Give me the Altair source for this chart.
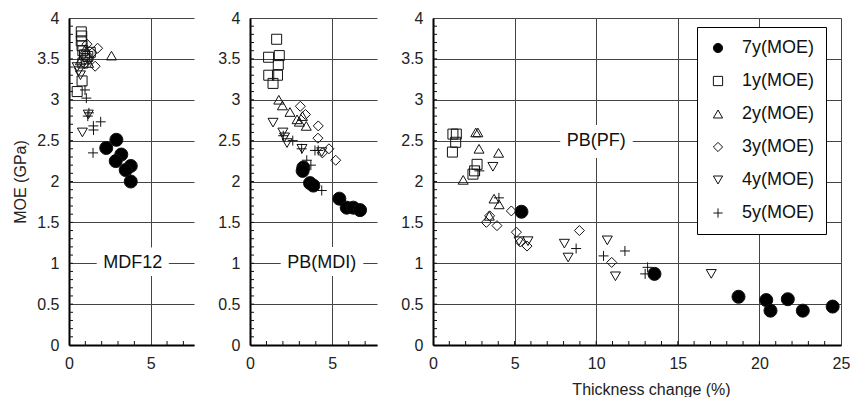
import altair as alt
import pandas as pd

# ---------------- data ----------------
SERIES = ["7y(MOE)", "1y(MOE)", "2y(MOE)", "3y(MOE)", "4y(MOE)", "5y(MOE)"]

# Panel 1: MDF12
MDF_S = ["7y"] * 7 + ["1y"] * 12 + ["2y"] * 4 + ["3y"] * 6 + ["4y"] * 5 + ["5y"] * 8
MDF_X = [2.28, 2.9, 3.2, 2.86, 3.78, 3.47, 3.78,
         0.75, 0.78, 0.75, 0.8, 0.85, 0.95, 1.05, 0.85, 0.8, 0.5, 1.15, 1.3,
         2.6, 1.0, 0.7, 1.2,
         1.75, 1.6, 1.4, 1.2, 1.1, 0.95,
         0.6, 0.5, 0.7, 1.18, 0.82,
         1.06, 0.98, 1.22, 1.15, 1.49, 1.94, 1.5, 1.47]
MDF_Y = [2.41, 2.51, 2.33, 2.25, 2.19, 2.14, 2.0,
         3.83, 3.78, 3.72, 3.66, 3.6, 3.55, 3.5, 3.45, 3.23, 3.1, 3.53, 3.58,
         3.54, 3.62, 3.48, 3.45,
         3.63, 3.41, 3.57, 3.5, 3.68, 3.44,
         3.35, 3.4, 3.3, 2.82, 2.6,
         3.02, 3.12, 2.84, 2.8, 2.68, 2.73, 2.63, 2.35]

# Panel 2: PB(MDI)
MDI_S = ["7y"] * 8 + ["1y"] * 7 + ["2y"] * 7 + ["3y"] * 7 + ["4y"] * 6 + ["5y"] * 8
MDI_X = [3.24, 3.2, 3.65, 3.85, 5.43, 5.88, 6.28, 6.69,
         1.62, 1.13, 1.78, 1.72, 1.14, 1.67, 1.4,
         1.75, 1.97, 2.43, 2.86, 3.19, 3.42, 3.0,
         3.06, 3.37, 4.15, 4.13, 4.8, 4.4, 5.21,
         1.4, 2.0, 2.1, 2.25, 3.16, 4.36,
         2.02, 2.6, 3.14, 3.95, 4.15, 3.45, 3.7, 4.36]
MDI_Y = [2.17, 2.13, 1.98, 1.95, 1.79, 1.68, 1.68, 1.65,
         3.74, 3.52, 3.54, 3.43, 3.3, 3.3, 3.2,
         3.0, 2.93, 2.85, 2.76, 2.8, 2.68, 2.73,
         2.92, 2.82, 2.68, 2.53, 2.4, 2.35, 2.26,
         2.72, 2.6, 2.54, 2.47, 2.4, 2.36,
         2.56, 2.5, 2.4, 2.38, 2.38, 2.26, 2.2, 1.89]

# Panel 3: PB(PF)
PF_S = ["7y"] * 8 + ["1y"] * 7 + ["2y"] * 8 + ["3y"] * 9 + ["4y"] * 8 + ["5y"] * 7
PF_X = [5.42, 13.57, 18.72, 20.42, 20.68, 21.74, 22.66, 24.49,
        1.22, 1.43, 1.39, 1.19, 2.7, 2.55, 2.45,
        2.62, 2.75, 2.82, 4.02, 1.85, 3.74, 4.05, 3.45,
        4.8, 3.47, 3.27, 3.92, 5.11, 5.76, 5.35, 8.97, 10.95,
        3.67, 5.27, 5.82, 8.05, 8.28, 10.68, 11.18, 17.05,
        2.84, 4.04, 8.77, 10.45, 11.76, 13.15, 13.0]
PF_Y = [1.63, 0.87, 0.59, 0.55, 0.42, 0.56, 0.42, 0.47,
        2.58, 2.58, 2.48, 2.36, 2.21, 2.13, 2.09,
        2.6, 2.6, 2.4, 2.35, 2.02, 1.79, 1.72, 1.58,
        1.64, 1.58, 1.5, 1.46, 1.38, 1.21, 1.26, 1.4, 1.01,
        2.18, 1.27, 1.27, 1.24, 1.07, 1.28, 0.84, 0.87,
        2.13, 1.8, 1.18, 1.09, 1.15, 0.95, 0.87]

PANEL_LABELS = ["MDF12", "PB(MDI)", "PB(PF)"]
LABEL_X = [3.9, 4.36, 10.0]
LABEL_Y = [1.0, 1.0, 2.5]

Y_TICKS = [0, 0.5, 1, 1.5, 2, 2.5, 3, 3.5, 4]
Y_MINOR = [i / 10 for i in range(1, 40)]
X_TICKS_SMALL = [0, 5]
X_TICKS_PF = [0, 5, 10, 15, 20, 25]
X_MINOR_SMALL = [1, 2, 3, 4, 6, 7]
X_MINOR_PF = [i for i in range(1, 25)]

# ---------------- style ----------------
FONT = "Liberation Sans"
SHAPES = ["circle", "square", "triangle-up", "diamond", "triangle-down", "M-1,0H1M0,-1V1"]
FILLS = ["black", "transparent", "transparent", "transparent", "transparent", "transparent"]
STROKES = ["#111"] * 6
H = 327

LEG = alt.Legend(title=None, orient="none", legendX=628, legendY=9,
                 strokeColor="black", fillColor="white", padding=12,
                 labelFontSize=18, labelFont=FONT, labelColor="#111",
                 symbolSize=85, rowPadding=15, labelOffset=15,
                 symbolStrokeWidth=1, cornerRadius=0)


def frame(codes, xs, ys):
    return pd.DataFrame({"s": [c + "(MOE)" for c in codes], "x": xs, "y": ys})


def panel(df, xmax, width, xticks, xminor, idx, first, last):
    xs = alt.Scale(domain=[0, xmax], nice=False, zero=False)
    ys = alt.Scale(domain=[0, 4], nice=False, zero=False)
    xaxis = alt.Axis(values=xticks, format="d", grid=True, ticks=False, labelFlush=False,
                     title="Thickness change (%)" if last else None,
                     titleX=218, titleAnchor="middle", titlePadding=10)
    yaxis = alt.Axis(values=Y_TICKS, format="~g", grid=True, ticks=False, labelFlush=False,
                     title="MOE (GPa)" if first else None)
    enc = dict(
        x=alt.X("x:Q", scale=xs, axis=xaxis),
        y=alt.Y("y:Q", scale=ys, axis=yaxis),
        shape=alt.Shape("s:N", scale=alt.Scale(domain=SERIES, range=SHAPES), legend=LEG),
        fill=alt.Fill("s:N", scale=alt.Scale(domain=SERIES, range=FILLS), legend=LEG),
        stroke=alt.Stroke("s:N", scale=alt.Scale(domain=SERIES, range=STROKES), legend=LEG),
    )
    base = alt.Chart(df)
    pts_open = base.transform_filter(alt.datum.s != "7y(MOE)").mark_point(
        filled=True, strokeWidth=1, opacity=1, size=100).encode(**enc)
    pts_full = base.transform_filter(alt.datum.s == "7y(MOE)").mark_point(
        filled=True, strokeWidth=1, opacity=1, size=170).encode(**enc)
    ymin = alt.Chart(pd.DataFrame({"y": Y_MINOR})).mark_rule(color="#111", strokeWidth=1).encode(
        y=alt.Y("y:Q", scale=ys, axis=yaxis), x=alt.value(0), x2=alt.value(4))
    xmin = alt.Chart(pd.DataFrame({"x": xminor})).mark_rule(color="#111", strokeWidth=1).encode(
        x=alt.X("x:Q", scale=xs, axis=xaxis), y=alt.value(H), y2=alt.value(H - 4))
    lab = pd.DataFrame({"t": [PANEL_LABELS[idx]], "x": [LABEL_X[idx]], "y": [LABEL_Y[idx]]})
    halo = alt.Chart(lab).mark_text(
        fontSize=18, font=FONT, stroke="white", strokeWidth=16, strokeJoin="round",
        fill="white", baseline="middle", align="center").encode(
        x=alt.X("x:Q", scale=xs, axis=xaxis), y=alt.Y("y:Q", scale=ys, axis=yaxis), text="t:N")
    txt = alt.Chart(lab).mark_text(
        fontSize=18, font=FONT, color="#111", baseline="middle", align="center").encode(
        x=alt.X("x:Q", scale=xs, axis=xaxis), y=alt.Y("y:Q", scale=ys, axis=yaxis), text="t:N")
    return alt.layer(pts_open, pts_full, halo, txt, ymin, xmin).properties(width=width, height=H)


p1 = panel(frame(MDF_S, MDF_X, MDF_Y), 7.65, 125, X_TICKS_SMALL, X_MINOR_SMALL, 0, True, False)
p2 = panel(frame(MDI_S, MDI_X, MDI_Y), 7.72, 127, X_TICKS_SMALL, X_MINOR_SMALL, 1, False, False)
p3 = panel(frame(PF_S, PF_X, PF_Y), 25, 408, X_TICKS_PF, X_MINOR_PF, 2, False, True)

chart = alt.hconcat(p1, p2, p3, spacing=23).properties(
    padding={"left": 12, "top": 10, "right": 0, "bottom": 0}
).configure(font=FONT).configure_view(stroke=None).configure_axis(
    domainColor="black", domainWidth=2, gridColor="#444", gridWidth=1,
    labelFontSize=16, labelColor="#222", labelPadding=10, labelFont=FONT,
    titleFontSize=16, titleFontWeight="normal", titleColor="#222", titleFont=FONT,
    titlePadding=8,
)

chart.save("out.html", embed_options={"renderer": "svg", "actions": False})
